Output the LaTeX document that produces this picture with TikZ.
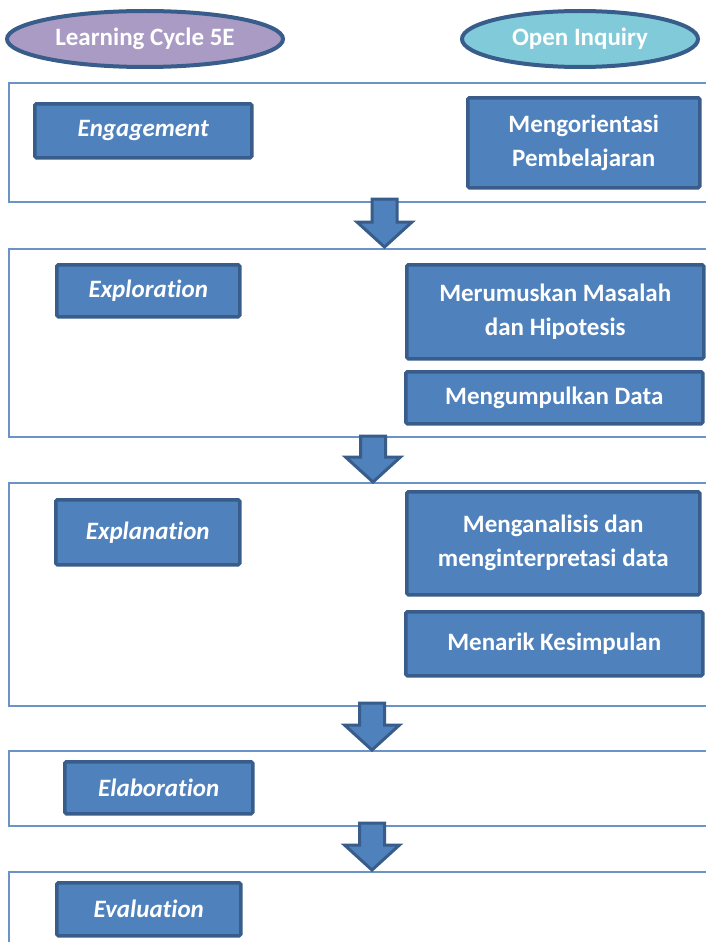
\documentclass[tikz,border=0pt]{standalone}
\usepackage{fontspec}
\setmainfont{Carlito}[Ligatures={NoCommon}]
\usetikzlibrary{shapes.geometric}
\definecolor{boxblue}{HTML}{4F81BD}
\definecolor{boxedge}{HTML}{385D8A}
\definecolor{framec}{HTML}{6A93C8}
\definecolor{lilac}{HTML}{A99BC3}
\definecolor{tealc}{HTML}{80CAD9}
\newcommand\blockarr[3]{%
  \draw[arrowshape] (#1-12.5,#2) -- (#1+12.5,#2) -- (#1+12.5,#3-25) -- (#1+27.5,#3-25)
    -- (#1,#3) -- (#1-27.5,#3-25) -- (#1-12.5,#3-25) -- cycle;}
\begin{document}
\begin{tikzpicture}[x=1pt,y=-1pt,
  frame/.style={draw=framec, line width=1.5pt, anchor=north west, inner sep=0pt},
  box/.style={draw=boxedge, fill=boxblue, line width=3.5pt, rounded corners=1.5pt,
    anchor=north west, inner sep=0pt, text=white, align=center,
    font=\fontsize{25}{34}\selectfont\bfseries},
  lbox/.style={box, font=\fontsize{25}{34}\selectfont\bfseries\itshape},
  oval/.style={ellipse, draw=boxedge, line width=4pt, text=white, inner sep=0pt,
    font=\fontsize{25}{30}\selectfont\bfseries},
  arrowshape/.style={draw=boxedge, fill=boxblue, line width=3pt, line join=miter}]
\useasboundingbox (0,0) rectangle (706,942);
% headers
\node[oval, fill=lilac, minimum width=276, minimum height=56] (lc) at (145,39) {Learning Cycle 5E};
\node[oval, fill=tealc, minimum width=236, minimum height=56] (oi) at (580,39) {Open Inquiry};
% frames
\node[frame, minimum width=710, minimum height=119] (f1) at (8,82) {};
\node[frame, minimum width=710, minimum height=188] (f2) at (8,248) {};
\node[frame, minimum width=710, minimum height=223] (f3) at (8,482) {};
\node[frame, minimum width=710, minimum height=75] (f4) at (8,750) {};
\node[frame, minimum width=710, minimum height=90] (f5) at (8,871) {};
% arrows
\blockarr{384.5}{199}{247}
\blockarr{373}{436}{482}
\blockarr{372}{703}{750}
\blockarr{372}{823}{870}
% left boxes
\node[lbox, minimum width=217, minimum height=54] (eng) at (33,102) {Engagement};
\node[lbox, minimum width=183, minimum height=52] (exp) at (55,263) {Exploration};
\node[lbox, minimum width=184, minimum height=65] (expl) at (54,498) {Explanation};
\node[lbox, minimum width=188, minimum height=52] (ela) at (63,760) {Elaboration};
\node[lbox, minimum width=184, minimum height=53] (eva) at (55,881) {Evaluation};
% right boxes
\node[box, minimum width=232, minimum height=90] (mo) at (466,96) {Mengorientasi\\Pembelajaran};
\node[box, minimum width=297, minimum height=94] (mm) at (405,263) {Merumuskan Masalah\\dan Hipotesis};
\node[box, minimum width=297, minimum height=52] (md) at (404,370) {Mengumpulkan Data};
\node[box, minimum width=293, minimum height=103] (ma) at (405,490) {Menganalisis dan\\menginterpretasi data};
\node[box, minimum width=297, minimum height=64] (mk) at (404,610) {Menarik Kesimpulan};
\end{tikzpicture}
\end{document}
